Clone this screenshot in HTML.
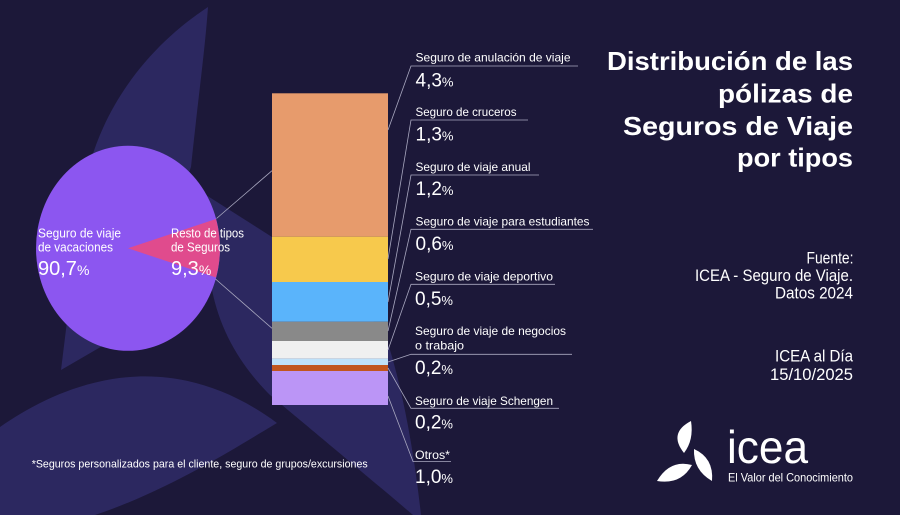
<!DOCTYPE html>
<html>
<head>
<meta charset="utf-8">
<style>
html,body{margin:0;padding:0;background:#1c1839;}
svg{display:block;}
text{font-family:"Liberation Sans",Arial,sans-serif;}
</style>
</head>
<body>
<svg width="900" height="515" viewBox="0 0 900 515" xmlns="http://www.w3.org/2000/svg">
  <rect x="0" y="0" width="900" height="515" fill="#1c1839"/>

  <!-- background blades -->
  <g fill="#2c2860">
    <path d="M208,7 C150,45 95,110 82,200 L61,370 L130,330 L191,167 C198,100 205,50 208,7 Z"/>
    <path d="M195,188 L272,237 C330,278 375,310 390,350 C405,400 415,460 421,515 L413,515 C360,470 300,420 270,395 C240,365 220,330 212,290 L170,250 Z"/>
    <path d="M0,427 C60,385 165,340 277,423 C240,445 170,490 95,515 L0,515 Z"/>
  </g>

  <!-- pie -->
  <ellipse cx="128" cy="248.3" rx="92" ry="102.5" fill="#8c56f0"/>
  <path d="M128,248.3 L216,219 A92,102.5 0 0 1 216,277.5 Z" fill="#e04b8d"/>

  <!-- pie to bar connectors -->
  <g stroke="#a9a8c0" stroke-width="0.8" fill="none">
    <line x1="216.5" y1="218.5" x2="272" y2="170.7"/>
    <line x1="215.5" y1="279" x2="272" y2="328.3"/>
  </g>

  <!-- stacked bar -->
  <rect x="272" y="93.3" width="116" height="143.4" fill="#e79b6c"/>
  <rect x="272" y="236.7" width="116" height="45.3" fill="#f7c94c"/>
  <rect x="272" y="282" width="116" height="39.7" fill="#5ab4fb"/>
  <rect x="272" y="321.7" width="116" height="19.3" fill="#898989"/>
  <rect x="272" y="341" width="116" height="17.7" fill="#f0f0f0"/>
  <rect x="272" y="358.7" width="116" height="6.3" fill="#bfe1f9"/>
  <rect x="272" y="365" width="116" height="6" fill="#c1561e"/>
  <rect x="272" y="371" width="116" height="34" fill="#bb95f6"/>

  <!-- leader lines and underlines -->
  <g stroke="#a9a8c0" stroke-width="0.8" fill="none">
    <polyline points="388,130 411,66 578,66"/>
    <polyline points="388,259 411,120 528,120"/>
    <polyline points="388,302 411,175 539,175"/>
    <polyline points="388,331 411,229.3 593,229.3"/>
    <polyline points="388,350 411,284.3 555,284.3"/>
    <polyline points="388,362 411,354.3 572,354.3"/>
    <polyline points="388,368 411,408.3 559,408.3"/>
    <polyline points="388,396 413,461.5 451,461.5"/>
  </g>

  <!-- pie labels -->
  <g fill="#ffffff">
    <text x="38" y="237.7" font-size="12.5" textLength="83" lengthAdjust="spacingAndGlyphs">Seguro de viaje</text>
    <text x="38" y="251.7" font-size="12.5" textLength="75" lengthAdjust="spacingAndGlyphs">de vacaciones</text>
    <text x="38" y="275" font-size="20">90,7<tspan font-size="14">%</tspan></text>
    <text x="171" y="237.7" font-size="12.5" textLength="73" lengthAdjust="spacingAndGlyphs">Resto de tipos</text>
    <text x="171" y="251.7" font-size="12.5" textLength="59" lengthAdjust="spacingAndGlyphs">de Seguros</text>
    <text x="171" y="275" font-size="20">9,3<tspan font-size="14">%</tspan></text>
  </g>

  <!-- right labels -->
  <g fill="#ffffff">
    <text x="415.5" y="61.7" font-size="12" textLength="155" lengthAdjust="spacingAndGlyphs">Seguro de anulación de viaje</text>
    <text x="415.5" y="86.7" font-size="19">4,3<tspan font-size="13">%</tspan></text>

    <text x="415.5" y="116" font-size="12" textLength="101" lengthAdjust="spacingAndGlyphs">Seguro de cruceros</text>
    <text x="415.5" y="140.7" font-size="19">1,3<tspan font-size="13">%</tspan></text>

    <text x="415.5" y="171" font-size="12" textLength="115" lengthAdjust="spacingAndGlyphs">Seguro de viaje anual</text>
    <text x="415.5" y="195" font-size="19">1,2<tspan font-size="13">%</tspan></text>

    <text x="415.5" y="225.7" font-size="12" textLength="174" lengthAdjust="spacingAndGlyphs">Seguro de viaje para estudiantes</text>
    <text x="415.5" y="250" font-size="19">0,6<tspan font-size="13">%</tspan></text>

    <text x="415" y="280.7" font-size="12" textLength="138" lengthAdjust="spacingAndGlyphs">Seguro de viaje deportivo</text>
    <text x="415" y="305" font-size="19">0,5<tspan font-size="13">%</tspan></text>

    <text x="415" y="335" font-size="12" textLength="151" lengthAdjust="spacingAndGlyphs">Seguro de viaje de negocios</text>
    <text x="415" y="349.3" font-size="12" textLength="49" lengthAdjust="spacingAndGlyphs">o trabajo</text>
    <text x="415" y="374" font-size="19">0,2<tspan font-size="13">%</tspan></text>

    <text x="415" y="405" font-size="12" textLength="138" lengthAdjust="spacingAndGlyphs">Seguro de viaje Schengen</text>
    <text x="415" y="428.3" font-size="19">0,2<tspan font-size="13">%</tspan></text>

    <text x="415" y="459" font-size="12" textLength="35" lengthAdjust="spacingAndGlyphs">Otros*</text>
    <text x="415" y="483" font-size="19">1,0<tspan font-size="13">%</tspan></text>
  </g>

  <!-- footnote -->
  <text x="31.7" y="467.7" font-size="11" fill="#ffffff" textLength="336" lengthAdjust="spacingAndGlyphs">*Seguros personalizados para el cliente, seguro de grupos/excursiones</text>

  <!-- title -->
  <g fill="#ffffff" font-weight="bold" font-size="26">
    <text x="607" y="70" textLength="246" lengthAdjust="spacingAndGlyphs">Distribución de las</text>
    <text x="718" y="102.5" textLength="135" lengthAdjust="spacingAndGlyphs">pólizas de</text>
    <text x="623" y="135" textLength="230" lengthAdjust="spacingAndGlyphs">Seguros de Viaje</text>
    <text x="737" y="166.7" textLength="116" lengthAdjust="spacingAndGlyphs">por tipos</text>
  </g>

  <!-- source -->
  <g fill="#ffffff" font-size="16.5">
    <text x="806.5" y="263.3" textLength="47" lengthAdjust="spacingAndGlyphs">Fuente:</text>
    <text x="695" y="281" textLength="158" lengthAdjust="spacingAndGlyphs">ICEA - Seguro de Viaje.</text>
    <text x="775" y="298.5" textLength="78" lengthAdjust="spacingAndGlyphs">Datos 2024</text>
    <text x="775" y="361.7" textLength="78" lengthAdjust="spacingAndGlyphs">ICEA al Día</text>
    <text x="770" y="380" textLength="83" lengthAdjust="spacingAndGlyphs">15/10/2025</text>
  </g>

  <!-- logo -->
  <g fill="#ffffff">
    <path d="M684,453 Q668,433 691,421 Q694,440 684,453 Z"/>
    <path d="M694,449 Q714,458 712,481 Q693,470 694,449 Z"/>
    <path d="M692,465 Q670,459 657,481 Q681,485 692,465 Z"/>
    <text x="727" y="463" font-size="46" textLength="81" lengthAdjust="spacingAndGlyphs">icea</text>
    <text x="728" y="481.5" font-size="12" textLength="125" lengthAdjust="spacingAndGlyphs">El Valor del Conocimiento</text>
  </g>
</svg>
</body>
</html>
